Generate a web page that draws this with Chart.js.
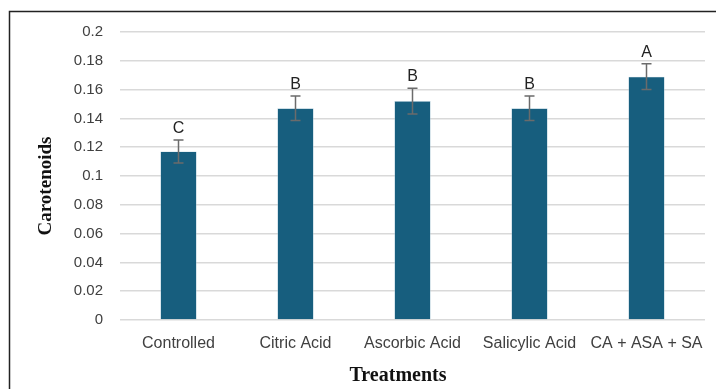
<!DOCTYPE html>
<html>
<head>
<meta charset="utf-8">
<script src="https://cdn.jsdelivr.net/npm/chart.js@4.4.1/dist/chart.umd.min.js"></script>
<style>
  html, body { margin: 0; padding: 0; background: #fff; }
  #wrap { width: 716px; height: 389px; position: relative; }
</style>
</head>
<body>
<div id="wrap"><canvas id="myChart" width="716" height="389"></canvas></div>
<script>
// data
const treatments = ['Controlled', 'Citric Acid', 'Ascorbic Acid', 'Salicylic Acid', 'CA + ASA + SA'];
const carotenoids = [0.117, 0.147, 0.152, 0.147, 0.169];
const errors = [0.008, 0.0085, 0.009, 0.0085, 0.009];
const letters = ['C', 'B', 'B', 'B', 'A'];

// frame, error bars, letters, axis titles
const extras = {
  id: 'extras',
  beforeDraw(chart) {
    const ctx = chart.ctx;
    ctx.save();
    ctx.strokeStyle = '#222';
    ctx.lineWidth = 1.5;
    ctx.beginPath();
    ctx.moveTo(9.5, 389);
    ctx.lineTo(9.5, 11.5);
    ctx.lineTo(716, 11.5);
    ctx.stroke();
    ctx.restore();
  },
  afterDatasetsDraw(chart) {
    const ctx = chart.ctx;
    const y = chart.scales.y;
    const meta = chart.getDatasetMeta(0);
    ctx.save();
    meta.data.forEach((bar, i) => {
      const x = bar.x;
      const top = y.getPixelForValue(carotenoids[i] + errors[i]);
      const bot = y.getPixelForValue(carotenoids[i] - errors[i]);
      ctx.strokeStyle = '#6b6b6b';
      ctx.lineWidth = 1.5;
      ctx.beginPath();
      ctx.moveTo(x, top); ctx.lineTo(x, bot);
      ctx.moveTo(x - 5, top); ctx.lineTo(x + 5, top);
      ctx.moveTo(x - 5, bot); ctx.lineTo(x + 5, bot);
      ctx.stroke();
      ctx.fillStyle = '#222';
      ctx.font = '16px "Liberation Sans", Arial, sans-serif';
      ctx.textAlign = 'center';
      ctx.textBaseline = 'alphabetic';
      ctx.fillText(letters[i], x, top - 7);
    });
    // axis titles
    ctx.fillStyle = '#111';
    ctx.font = 'bold 20px "Liberation Serif", "Times New Roman", serif';
    ctx.textAlign = 'center';
    ctx.textBaseline = 'middle';
    ctx.fillText('Treatments', 398, 376);
    ctx.translate(46, 186);
    ctx.rotate(-Math.PI / 2);
    ctx.font = 'bold 19px "Liberation Serif", "Times New Roman", serif';
    ctx.fillText('Carotenoids', 0, 0);
    ctx.restore();
  }
};

new Chart('myChart', {
  type: 'bar',
  data: {
    labels: treatments,
    datasets: [{
      data: carotenoids,
      backgroundColor: '#175e7e',
      borderColor: '#a9c6d4',
      borderWidth: 0.6,
      categoryPercentage: 1,
      barPercentage: 0.31
    }]
  },
  options: {
    responsive: false,
    animation: false,
    layout: { padding: { left: 0, right: 11, top: 32, bottom: 29 } },
    plugins: { legend: { display: false }, tooltip: { enabled: false } },
    scales: {
      x: {
        grid: { display: false },
        border: { display: false },
        ticks: {
          color: '#404040',
          font: { family: '"Liberation Sans", Arial, sans-serif', size: 16 },
          padding: 6,
          autoSkip: false,
          maxRotation: 0
        },
        afterFit: (s) => { s.height = 40; }
      },
      y: {
        min: 0,
        max: 0.2,
        grid: { color: '#d9d9d9', lineWidth: 1.5, drawTicks: false },
        border: { display: false },
        ticks: {
          stepSize: 0.02,
          color: '#404040',
          padding: 17,
          font: { family: '"Liberation Sans", Arial, sans-serif', size: 15 },
          callback: (v) => +v.toFixed(2)
        },
        afterFit: (s) => { s.width = 120; }
      }
    }
  },
  plugins: [extras]
});
</script>
</body>
</html>
